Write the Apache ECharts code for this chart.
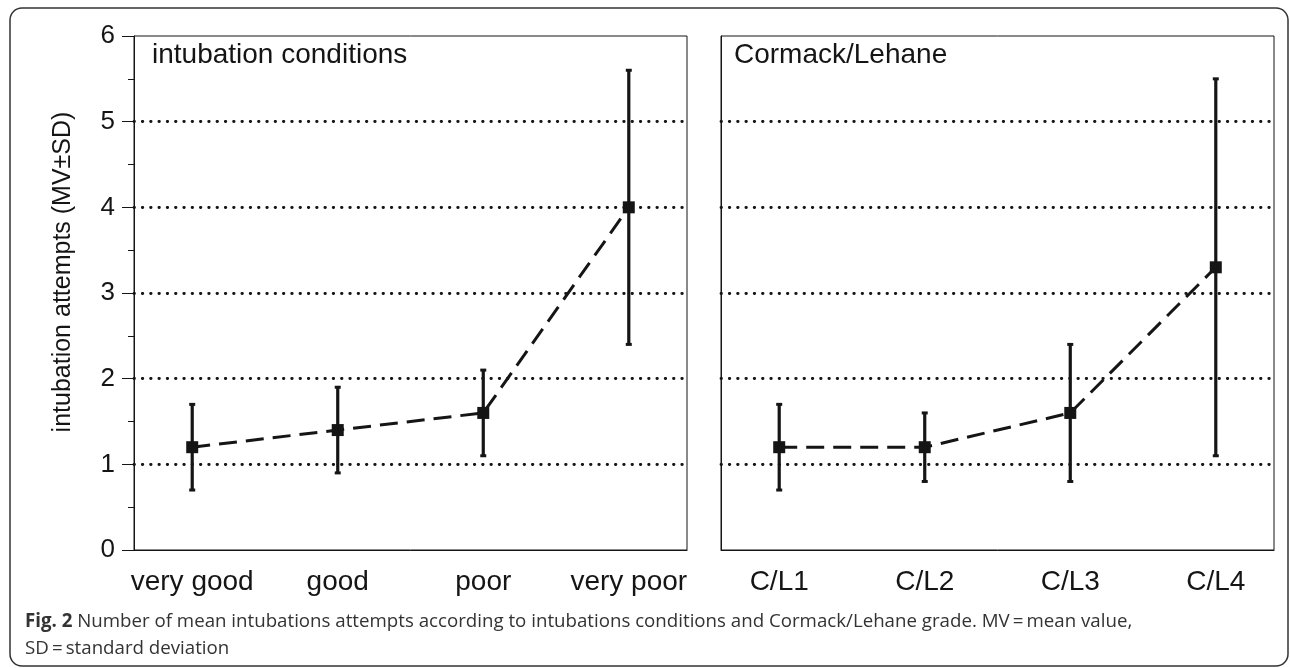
<!DOCTYPE html>
<html>
<head>
<meta charset="utf-8">
<script src="https://cdn.jsdelivr.net/npm/echarts@6/dist/echarts.min.js"></script>
<style>
html,body{margin:0;padding:0;background:#fff;}
#chart{width:1290px;height:668px;}
</style>
</head>
<body>
<div id="chart"></div>
<script>
// ---- data ----
const categoriesLeft = ['very good', 'good', 'poor', 'very poor'];
const meansLeft = [1.2, 1.4, 1.6, 4.0];
const lowLeft = [0.7, 0.9, 1.1, 2.4];
const highLeft = [1.7, 1.9, 2.1, 5.6];

const categoriesRight = ['C/L1', 'C/L2', 'C/L3', 'C/L4'];
const meansRight = [1.2, 1.2, 1.6, 3.3];
const lowRight = [0.7, 0.8, 0.8, 1.1];
const highRight = [1.7, 1.6, 2.4, 5.5];

const yTickValues = [0, 1, 2, 3, 4, 5, 6];
const panelTitles = ['intubation conditions', 'Cormack/Lehane'];
const yAxisTitle = 'intubation attempts (MV±SD)';
const captionLine1 = 'Number of mean intubations attempts according to intubations conditions and Cormack/Lehane grade. MV\u2009=\u2009mean value,';
const captionLine2 = 'SD\u2009=\u2009standard deviation';

// ---- chart ----
const ink = '#151515';
const FONT = '"Liberation Sans", Arial, sans-serif';
const chart = echarts.init(document.getElementById('chart'), null, {renderer: 'canvas'});

function pts(means) { return means.map((m, i) => [i, m]); }
function errs(lo, hi) { return lo.map((l, i) => [i, l, hi[i]]); }

function errRender(params, api) {
  const x = api.value(0);
  const lo = api.coord([x, api.value(1)]);
  const hi = api.coord([x, api.value(2)]);
  const cw = 3;
  const st = {stroke: ink, lineWidth: 3.2};
  const cs = {stroke: ink, lineWidth: 3};
  return {
    type: 'group',
    children: [
      {type: 'line', shape: {x1: lo[0], y1: lo[1], x2: hi[0], y2: hi[1]}, style: st},
      {type: 'line', shape: {x1: lo[0] - cw, y1: lo[1], x2: lo[0] + cw, y2: lo[1]}, style: cs},
      {type: 'line', shape: {x1: hi[0] - cw, y1: hi[1], x2: hi[0] + cw, y2: hi[1]}, style: cs}
    ]
  };
}

const dotted = {show: true, showMinLine: false, showMaxLine: false,
  lineStyle: {color: ink, width: 2.8, type: [0.5, 7.8], cap: 'round'}};

function xAxisFor(idx, cats) {
  return {
    gridIndex: idx, type: 'value', min: -0.4, max: 3.4,
    axisLine: {show: true, onZero: false, lineStyle: {color: ink, width: 1}},
    axisTick: {show: false},
    splitLine: {show: false},
    axisLabel: {
      customValues: [0, 1, 2, 3],
      formatter: v => cats[Math.round(v)],
      fontSize: 28, fontFamily: FONT, color: ink, margin: 18
    }
  };
}

const option = {
  animation: false,
  backgroundColor: '#fff',
  grid: [
    {left: 134, top: 36, width: 553, height: 514, show: true, borderColor: ink, borderWidth: 1, backgroundColor: 'transparent'},
    {left: 721, top: 36, width: 553, height: 514, show: true, borderColor: ink, borderWidth: 1, backgroundColor: 'transparent'}
  ],
  title: [
    {text: panelTitles[0], left: 152, top: 41, padding: 0, textStyle: {fontSize: 28, fontWeight: 'normal', fontFamily: FONT, color: ink}},
    {text: panelTitles[1], left: 734, top: 41, padding: 0, textStyle: {fontSize: 28, fontWeight: 'normal', fontFamily: FONT, color: ink}}
  ],
  xAxis: [xAxisFor(0, categoriesLeft), xAxisFor(1, categoriesRight)],
  yAxis: [
    {
      gridIndex: 0, type: 'value', min: yTickValues[0], max: yTickValues[yTickValues.length - 1], interval: 1,
      axisLine: {show: true, onZero: false, lineStyle: {color: ink, width: 1}},
      axisTick: {show: true, length: 12, inside: false, lineStyle: {color: ink, width: 1}},
      minorTick: {show: true, splitNumber: 2, length: 6, lineStyle: {color: ink, width: 1}},
      axisLabel: {fontSize: 26, fontFamily: FONT, color: ink, margin: 19},
      splitLine: dotted
    },
    {
      gridIndex: 1, type: 'value', min: yTickValues[0], max: yTickValues[yTickValues.length - 1], interval: 1,
      axisLine: {show: true, onZero: false, lineStyle: {color: ink, width: 1}},
      axisTick: {show: false},
      axisLabel: {show: false},
      splitLine: dotted
    }
  ],
  series: [
    {type: 'custom', xAxisIndex: 0, yAxisIndex: 0, data: errs(lowLeft, highLeft), renderItem: errRender, z: 3},
    {type: 'custom', xAxisIndex: 1, yAxisIndex: 1, data: errs(lowRight, highRight), renderItem: errRender, z: 3},
    {type: 'line', xAxisIndex: 0, yAxisIndex: 0, data: pts(meansLeft), symbol: 'rect', symbolSize: 12,
     lineStyle: {color: ink, width: 3, type: [18, 9]}, itemStyle: {color: ink}, z: 4},
    {type: 'line', xAxisIndex: 1, yAxisIndex: 1, data: pts(meansRight), symbol: 'rect', symbolSize: 12,
     lineStyle: {color: ink, width: 3, type: [18, 9]}, itemStyle: {color: ink}, z: 4}
  ],
  graphic: [
    {type: 'rect', shape: {x: 10, y: 8, width: 1278, height: 658, r: 12}, style: {fill: 'none', stroke: '#333', lineWidth: 1.5}, z: 100},
    {type: 'text', x: 63, y: 272, rotation: Math.PI / 2, style: {
      text: yAxisTitle, font: '25px "Liberation Sans", Arial, sans-serif', fill: ink,
      align: 'center', verticalAlign: 'middle'
    }, z: 100},
    {type: 'text', x: 25, y: 612, style: {
      text: '{b|Fig. 2} ' + captionLine1,
      font: '18.7px "Open Sans", sans-serif', fill: '#333',
      rich: {b: {fontWeight: 'bold', fontSize: 18.7, fontFamily: '"Open Sans", sans-serif', fill: '#333'}}
    }, z: 100},
    {type: 'text', x: 25, y: 639, style: {
      text: captionLine2, font: '18.7px "Open Sans", sans-serif', fill: '#333'
    }, z: 100}
  ]
};
chart.setOption(option);
</script>
</body>
</html>
